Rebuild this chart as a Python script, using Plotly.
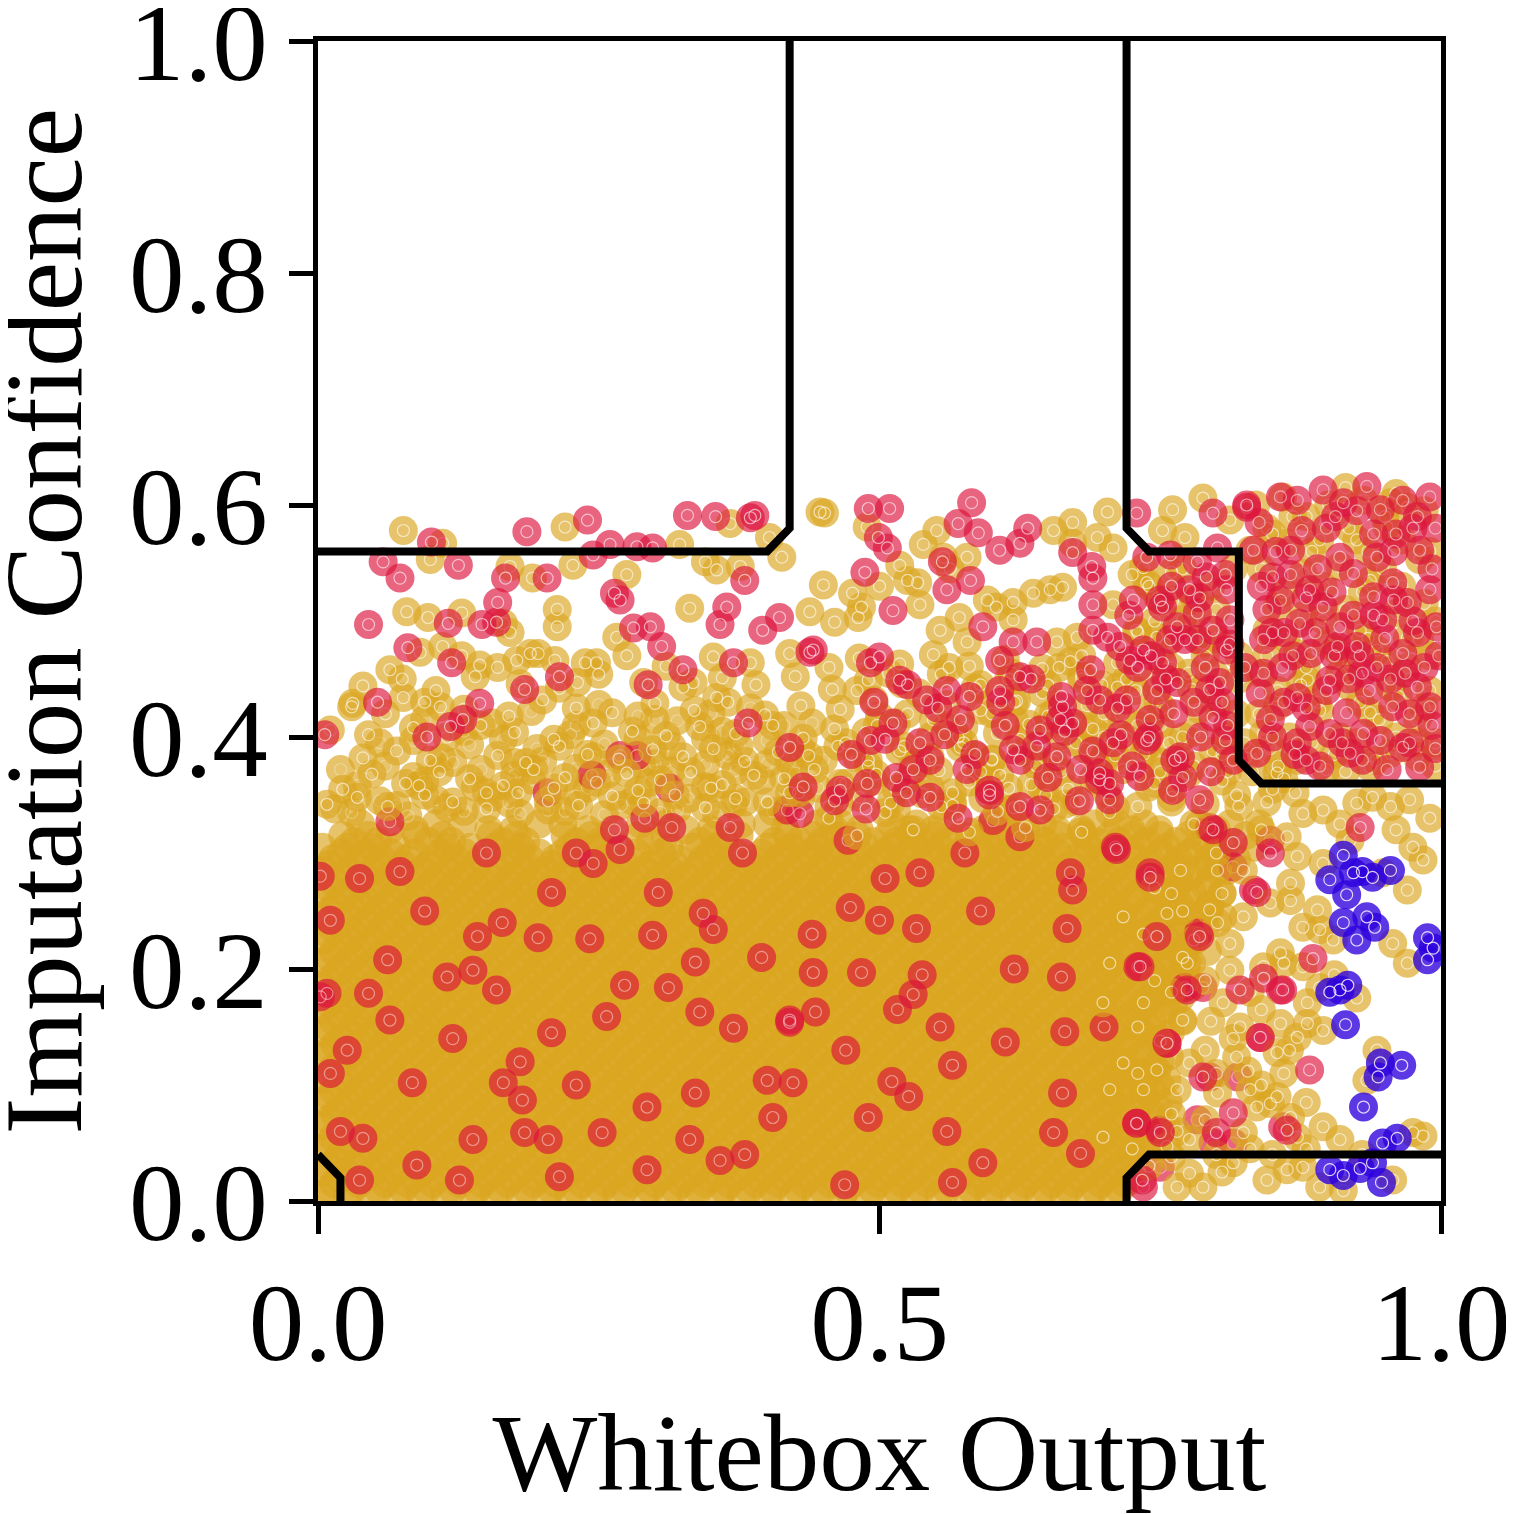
import plotly.graph_objects as go
import numpy as np

# every coordinate below is in thousandths of an axis unit

# dense orange body, written row by row: row height and the x positions in that row
core_row_y = [5, 15, 25, 35, 45, 55, 65, 75, 85, 95, 105, 115, 125, 135, 145, 155, 165,
              175, 185, 195, 205, 215, 225, 235, 245, 255, 265, 275, 285, 295, 305, 315, 325]
core_row_x = [
    [3, 26, 47, 71, 91, 113, 138, 157, 180, 204, 223, 246, 266, 291, 311, 333, 358, 377, 400, 423, 443, 467, 487, 511, 531, 553, 578, 597, 620, 642, 664, 687, 707],
    [14, 36, 60, 80, 102, 126, 146, 169, 192, 212, 235, 257, 279, 300, 324, 345, 366, 390, 410, 433, 456, 476, 499, 521, 543, 564, 588, 608, 630, 654, 674, 697, 719],
    [4, 25, 49, 69, 92, 115, 135, 158, 180, 202, 225, 245, 268, 290, 312, 335, 355, 378, 400, 422, 445, 465, 488, 510, 532, 555, 575, 598, 620, 642, 664, 685, 709],
    [16, 37, 58, 82, 103, 124, 148, 168, 191, 214, 234, 257, 280, 300, 323, 346, 366, 389, 412, 432, 455, 478, 498, 521, 544, 564, 587, 610, 630, 653, 676, 696, 719],
    [3, 24, 48, 70, 90, 114, 136, 157, 181, 202, 223, 247, 267, 290, 313, 333, 356, 379, 399, 422, 445, 465, 488, 511, 531, 554, 577, 597, 620, 643, 663, 686, 709, 732],
    [13, 37, 58, 80, 101, 125, 146, 168, 191, 213, 235, 257, 279, 301, 323, 345, 367, 388, 412, 433, 454, 478, 499, 520, 544, 565, 586, 610, 631, 652, 676, 697, 720, 744],
    [4, 26, 47, 70, 92, 113, 136, 158, 179, 202, 224, 245, 268, 290, 311, 334, 356, 377, 400, 422, 443, 466, 488, 509, 532, 554, 575, 598, 620, 641, 664, 686, 707, 731, 755],
    [15, 38, 58, 80, 104, 124, 146, 170, 190, 212, 236, 256, 278, 302, 322, 344, 368, 388, 410, 434, 454, 476, 500, 520, 542, 566, 586, 608, 632, 652, 674, 698, 718, 742],
    [5, 27, 48, 71, 93, 114, 137, 159, 180, 203, 225, 246, 269, 291, 312, 335, 357, 378, 401, 423, 444, 467, 489, 510, 533, 555, 576, 599, 621, 642, 665, 687, 708, 733, 757],
    [14, 36, 60, 80, 102, 126, 146, 168, 192, 212, 234, 258, 278, 300, 324, 344, 366, 390, 410, 432, 456, 476, 498, 522, 542, 564, 588, 608, 630, 654, 674, 696, 720, 743],
    [3, 25, 48, 70, 91, 114, 136, 157, 180, 202, 223, 246, 268, 289, 312, 334, 355, 378, 400, 421, 444, 466, 487, 510, 532, 553, 576, 598, 619, 642, 664, 685, 708, 731, 756],
    [14, 37, 59, 80, 103, 125, 146, 169, 191, 212, 235, 257, 278, 301, 323, 344, 367, 389, 410, 433, 455, 476, 499, 521, 542, 565, 587, 608, 631, 653, 674, 697, 719, 744],
    [4, 27, 48, 70, 93, 114, 136, 159, 180, 202, 225, 246, 268, 291, 312, 334, 357, 378, 400, 423, 444, 466, 489, 510, 532, 555, 576, 598, 621, 642, 664, 687, 708, 732, 758],
    [15, 36, 59, 82, 103, 125, 148, 169, 191, 214, 235, 257, 280, 301, 323, 346, 367, 389, 412, 433, 455, 478, 499, 521, 544, 565, 587, 610, 631, 653, 676, 697, 719, 745],
    [5, 28, 49, 71, 94, 115, 137, 160, 181, 203, 226, 247, 269, 292, 313, 335, 358, 379, 401, 424, 445, 467, 490, 511, 533, 556, 577, 599, 622, 643, 665, 688, 709, 733, 759],
    [14, 35, 58, 81, 102, 124, 147, 168, 190, 213, 234, 256, 279, 300, 322, 345, 366, 388, 411, 432, 454, 477, 498, 520, 543, 564, 586, 609, 630, 652, 675, 696, 718, 743, 770],
    [3, 26, 47, 69, 92, 113, 135, 158, 179, 201, 224, 245, 267, 290, 311, 333, 356, 377, 399, 422, 443, 465, 488, 509, 531, 554, 575, 597, 620, 641, 663, 686, 707, 730, 756],
    [13, 35, 58, 79, 101, 124, 145, 167, 190, 211, 233, 256, 277, 299, 322, 343, 365, 388, 409, 431, 454, 475, 497, 520, 541, 563, 586, 607, 629, 652, 673, 695, 717, 742, 768],
    [4, 27, 48, 70, 93, 114, 136, 159, 180, 202, 225, 246, 268, 291, 312, 334, 357, 378, 400, 423, 444, 466, 489, 510, 532, 555, 576, 598, 621, 642, 664, 687, 708, 731, 755, 779],
    [15, 37, 60, 81, 103, 126, 147, 169, 192, 213, 235, 258, 279, 301, 324, 345, 367, 390, 411, 433, 456, 477, 499, 522, 543, 565, 588, 609, 631, 654, 675, 697, 719, 744, 768],
    [3, 25, 48, 69, 91, 114, 135, 157, 180, 201, 223, 246, 267, 289, 312, 333, 355, 378, 399, 421, 444, 465, 487, 510, 531, 553, 576, 597, 619, 642, 663, 685, 707, 730, 754, 778],
    [14, 36, 59, 80, 102, 125, 146, 168, 191, 212, 234, 257, 278, 300, 323, 344, 366, 389, 410, 432, 455, 476, 498, 521, 542, 564, 587, 608, 630, 653, 674, 696, 718, 742, 767, 792],
    [5, 28, 49, 71, 94, 115, 137, 160, 181, 203, 226, 247, 269, 292, 313, 335, 358, 379, 401, 424, 445, 467, 490, 511, 533, 556, 577, 599, 622, 643, 665, 688, 709, 732, 756, 781],
    [13, 35, 58, 79, 101, 124, 145, 167, 190, 211, 233, 256, 277, 299, 322, 343, 365, 388, 409, 431, 454, 475, 497, 520, 541, 563, 586, 607, 629, 652, 673, 695, 717, 741, 766, 790],
    [4, 27, 48, 70, 93, 114, 136, 159, 180, 202, 225, 246, 268, 291, 312, 334, 357, 378, 400, 423, 444, 466, 489, 510, 532, 555, 576, 598, 621, 642, 664, 687, 708, 731, 755, 780, 806],
    [15, 38, 59, 81, 104, 125, 147, 170, 191, 213, 236, 257, 279, 302, 323, 345, 368, 389, 411, 434, 455, 477, 500, 521, 543, 566, 587, 609, 632, 653, 675, 698, 719, 743, 768, 794],
    [3, 25, 48, 69, 91, 114, 135, 157, 180, 201, 223, 246, 267, 289, 312, 333, 355, 378, 399, 421, 444, 465, 487, 510, 531, 553, 576, 597, 619, 642, 663, 685, 707, 730, 754, 779, 805],
    [14, 37, 58, 80, 103, 124, 146, 169, 190, 212, 235, 256, 278, 301, 322, 344, 367, 388, 410, 433, 454, 476, 499, 520, 542, 565, 586, 608, 631, 652, 674, 697, 718, 742, 767, 793],
    [5, 27, 50, 71, 93, 116, 137, 159, 182, 203, 225, 248, 269, 291, 314, 335, 357, 380, 401, 423, 446, 467, 489, 512, 533, 555, 578, 599, 621, 644, 665, 687, 709, 732, 757, 783, 810],
    [13, 36, 57, 79, 102, 123, 145, 168, 189, 211, 234, 255, 277, 300, 321, 343, 366, 387, 409, 432, 453, 475, 498, 519, 541, 564, 585, 607, 630, 651, 673, 696, 717, 741, 766, 792, 818],
    [4, 26, 49, 70, 115, 136, 158, 181, 224, 247, 268, 313, 334, 356, 400, 422, 445, 466, 488, 511, 532, 554, 577, 598, 620, 643, 664, 686, 708, 731, 756, 782, 808, 834],
    [22, 45, 88, 111, 154, 177, 220, 243, 286, 309, 352, 375, 418, 441, 462, 507, 528, 550, 573, 594, 616, 639, 660, 682, 705, 726, 750, 775, 800, 826],
    [38, 105, 129, 197, 218, 287, 310, 377, 400, 445, 466, 511, 533, 556, 600, 622, 645, 690, 712, 736, 785, 812, 838],
]

# second pass over the same body, rows in between the first ones
core2_row_y = [10, 20, 30, 40, 50, 60, 70, 80, 90, 100, 110, 120, 130, 140, 150, 160,
               170, 180, 190, 200, 210, 220, 230, 240, 250, 260, 270, 280, 290, 300, 310, 320]
core2_row_x = [
    [9, 31, 54, 76, 97, 120, 142, 163, 186, 208, 230, 252, 273, 296, 318, 339, 362, 384, 405, 428, 450, 471, 494, 516, 537, 560, 582, 603, 626, 648, 669, 692, 714],
    [20, 42, 63, 86, 108, 130, 152, 173, 196, 218, 240, 261, 284, 306, 327, 350, 372, 394, 416, 437, 460, 482, 503, 526, 548, 570, 591, 614, 636, 657, 680, 702, 724],
    [9, 32, 53, 75, 98, 119, 141, 164, 186, 207, 230, 251, 273, 296, 318, 339, 362, 383, 405, 428, 450, 471, 494, 515, 537, 560, 582, 603, 626, 647, 669, 692, 714],
    [20, 41, 64, 86, 107, 130, 152, 174, 196, 218, 239, 262, 284, 305, 328, 350, 372, 394, 416, 437, 460, 482, 504, 526, 548, 569, 592, 614, 635, 658, 680, 702, 724],
    [10, 31, 53, 76, 97, 119, 142, 164, 185, 208, 230, 251, 274, 296, 317, 340, 362, 383, 406, 428, 449, 472, 494, 515, 538, 560, 581, 604, 626, 647, 670, 692, 713, 738],
    [21, 42, 64, 87, 108, 130, 153, 174, 196, 219, 240, 262, 285, 306, 328, 351, 372, 394, 417, 438, 460, 483, 504, 526, 549, 570, 592, 615, 636, 658, 681, 702, 725, 749],
    [9, 31, 54, 75, 97, 120, 141, 163, 186, 207, 229, 252, 273, 295, 318, 339, 361, 384, 405, 427, 450, 471, 493, 516, 537, 559, 582, 603, 625, 648, 669, 691, 714, 737],
    [20, 43, 64, 86, 109, 130, 152, 175, 196, 218, 241, 262, 284, 307, 328, 350, 373, 394, 416, 439, 460, 482, 505, 526, 548, 571, 592, 614, 637, 658, 680, 703, 724, 748],
    [10, 32, 53, 76, 98, 119, 142, 164, 185, 208, 230, 251, 274, 296, 317, 340, 362, 383, 406, 428, 449, 472, 494, 515, 538, 560, 581, 604, 626, 647, 670, 692, 713, 737],
    [21, 42, 65, 86, 108, 131, 152, 174, 197, 218, 240, 263, 284, 306, 329, 350, 372, 395, 416, 438, 461, 482, 504, 527, 548, 570, 593, 614, 636, 659, 680, 702, 725, 750],
    [9, 31, 53, 76, 97, 119, 142, 163, 185, 208, 229, 251, 274, 295, 317, 340, 361, 383, 406, 427, 449, 472, 493, 515, 538, 559, 581, 604, 625, 647, 670, 691, 713, 738],
    [20, 42, 64, 86, 108, 130, 152, 174, 196, 218, 240, 262, 284, 306, 328, 350, 372, 394, 416, 438, 460, 482, 504, 526, 548, 570, 592, 614, 636, 658, 680, 702, 724, 750],
    [10, 33, 54, 76, 99, 120, 142, 165, 186, 208, 231, 252, 274, 297, 318, 340, 363, 384, 406, 429, 450, 472, 495, 516, 538, 561, 582, 604, 627, 648, 670, 693, 714, 739],
    [21, 42, 64, 87, 108, 130, 153, 174, 196, 219, 240, 262, 285, 306, 328, 351, 372, 394, 417, 438, 460, 483, 504, 526, 549, 570, 592, 615, 636, 658, 681, 702, 725, 751],
    [9, 32, 53, 75, 98, 119, 141, 164, 185, 207, 230, 251, 273, 296, 317, 339, 362, 383, 405, 428, 449, 471, 494, 515, 537, 560, 581, 603, 626, 647, 669, 692, 713, 738],
    [20, 41, 64, 86, 107, 130, 152, 173, 196, 218, 239, 262, 284, 305, 328, 350, 371, 394, 416, 437, 460, 482, 503, 526, 548, 569, 592, 614, 635, 658, 680, 701, 724, 750],
    [10, 31, 53, 76, 97, 119, 142, 163, 185, 208, 229, 251, 274, 295, 317, 340, 361, 383, 406, 427, 449, 472, 493, 515, 538, 559, 581, 604, 625, 647, 670, 691, 713, 737, 762],
    [21, 43, 64, 86, 109, 130, 152, 175, 196, 218, 241, 262, 284, 307, 328, 350, 373, 394, 416, 439, 460, 482, 505, 526, 548, 571, 592, 614, 637, 658, 680, 703, 724, 749],
    [9, 31, 54, 75, 97, 120, 141, 163, 186, 207, 229, 252, 273, 295, 318, 339, 361, 384, 405, 427, 450, 471, 493, 516, 537, 559, 582, 603, 625, 648, 669, 691, 714, 737, 762],
    [20, 42, 63, 86, 108, 129, 152, 174, 195, 218, 240, 261, 284, 306, 327, 350, 372, 393, 416, 438, 459, 482, 504, 525, 548, 570, 591, 614, 636, 657, 680, 702, 724, 748, 773],
    [10, 32, 54, 76, 98, 120, 142, 164, 186, 208, 230, 252, 274, 296, 318, 340, 362, 384, 406, 428, 450, 472, 494, 516, 538, 560, 582, 604, 626, 648, 670, 692, 714, 737, 761],
    [21, 42, 65, 86, 108, 131, 152, 174, 197, 218, 240, 263, 284, 306, 329, 350, 372, 395, 416, 438, 461, 482, 504, 527, 548, 570, 593, 614, 636, 659, 680, 702, 725, 749, 774],
    [9, 31, 53, 76, 97, 119, 142, 163, 185, 208, 229, 251, 274, 295, 317, 340, 361, 383, 406, 427, 449, 472, 493, 515, 538, 559, 581, 604, 625, 647, 670, 691, 713, 737, 762],
    [20, 43, 64, 86, 109, 130, 152, 175, 196, 218, 241, 262, 284, 307, 328, 350, 373, 394, 416, 439, 460, 482, 505, 526, 548, 571, 592, 614, 637, 658, 680, 703, 724, 748, 772],
    [10, 31, 53, 76, 97, 119, 142, 163, 185, 208, 229, 251, 274, 295, 317, 340, 361, 383, 406, 427, 449, 472, 493, 515, 538, 559, 581, 604, 625, 647, 670, 691, 713, 738, 763, 790],
    [21, 42, 64, 87, 108, 130, 153, 174, 196, 219, 240, 262, 285, 306, 328, 351, 372, 394, 417, 438, 460, 483, 504, 526, 549, 570, 592, 615, 636, 658, 681, 702, 725, 750, 775],
    [9, 32, 53, 75, 98, 119, 141, 164, 185, 207, 230, 251, 273, 296, 317, 339, 362, 383, 405, 428, 449, 471, 494, 515, 537, 560, 581, 603, 626, 647, 669, 692, 713, 738, 764, 791],
    [20, 41, 64, 86, 107, 130, 152, 173, 196, 218, 239, 262, 284, 305, 328, 350, 371, 394, 416, 437, 460, 482, 503, 526, 548, 569, 592, 614, 635, 658, 680, 701, 724, 749, 775],
    [10, 32, 53, 76, 98, 119, 142, 164, 185, 208, 230, 251, 274, 296, 317, 340, 362, 383, 406, 428, 449, 472, 494, 515, 538, 560, 581, 604, 626, 647, 670, 692, 713, 738, 764, 792],
    [21, 42, 65, 86, 108, 131, 174, 197, 218, 263, 284, 306, 350, 372, 395, 416, 438, 461, 482, 504, 527, 548, 570, 593, 614, 636, 659, 680, 702, 725, 750, 776, 802],
    [32, 53, 98, 119, 164, 185, 230, 251, 296, 340, 362, 406, 428, 449, 494, 515, 538, 560, 604, 626, 647, 692, 713, 738, 764, 790],
    [64, 86, 152, 174, 240, 262, 328, 350, 416, 460, 482, 526, 548, 592, 614, 658, 680, 724, 749, 800],
]

orange_mid = [
    (8, 342), (35, 348), (62, 340), (95, 350), (120, 344), (150, 338), (178, 352), (205, 345), (232, 341), (262, 349),
    (290, 343), (318, 350), (345, 339), (372, 347), (400, 344), (428, 352), (455, 340), (482, 348), (510, 343), (538, 351),
    (565, 341), (592, 347), (620, 339), (648, 350), (675, 344), (702, 352), (730, 340), (760, 348), (790, 342), (818, 350),
    (845, 344), (870, 352), (48, 368), (78, 360), (108, 370), (135, 364), (165, 358), (192, 372), (220, 365), (248, 361),
    (275, 369), (305, 363), (332, 370), (360, 359), (388, 367), (415, 364), (442, 372), (470, 360), (497, 368), (525, 363),
    (553, 371), (580, 361), (607, 367), (635, 359), (662, 370), (690, 364), (717, 372), (745, 360), (775, 368), (805, 362),
    (832, 370), (860, 364), (40, 382), (70, 388), (100, 380), (160, 384), (185, 378), (215, 392), (240, 385), (268, 381),
    (298, 389), (325, 383), (352, 390), (380, 379), (410, 387), (437, 384), (463, 392), (490, 380), (518, 388), (545, 383),
    (572, 391), (600, 381), (628, 387), (655, 379), (683, 390), (710, 384), (738, 392), (768, 380), (797, 388), (826, 382),
    (45, 402), (85, 408), (115, 400), (145, 410), (175, 404), (210, 398), (245, 412), (280, 405), (310, 401), (340, 409),
    (372, 403), (405, 410), (432, 399), (460, 407), (488, 404), (515, 412), (545, 400), (575, 408), (605, 403), (633, 411),
    (660, 401), (690, 407), (720, 399), (750, 410), (780, 404), (808, 400), (30, 426), (60, 420), (95, 430), (130, 424),
    (170, 418), (200, 432), (230, 425), (262, 421), (300, 429), (335, 423), (365, 430), (398, 419), (430, 427), (465, 424),
    (495, 432), (525, 420), (560, 428), (590, 423), (622, 431), (655, 421), (685, 427), (715, 419), (748, 430), (785, 424),
    (40, 444), (75, 450), (105, 440), (140, 452), (180, 446), (215, 442), (250, 454), (290, 447), (325, 443), (360, 451),
    (390, 445), (425, 452), (458, 441), (490, 449), (520, 446), (555, 454), (585, 442), (615, 450), (650, 445), (680, 453),
    (712, 443), (745, 449), (778, 441), (128, 470), (196, 472), (238, 464), (275, 470), (310, 461), (352, 469), (385, 464),
    (420, 472), (455, 460), (482, 468), (518, 463), (548, 471), (580, 461), (612, 467), (645, 459), (680, 470), (712, 464),
    (31, 429), (231, 447), (334, 447), (355, 434), (109, 426), (76, 434), (11, 406),
    (22, 355), (90, 358), (150, 352), (210, 356), (285, 354), (350, 356), (420, 352),
]

orange_band_left = [
    (30, 335), (55, 345), (80, 332), (105, 346), (130, 336), (155, 348), (180, 334), (205, 337), (230, 349), (255, 333),
    (280, 345), (305, 335), (330, 347), (355, 333), (380, 344), (405, 336), (430, 348), (20, 372), (60, 375), (85, 366),
    (120, 378), (145, 372), (175, 367), (200, 379), (230, 373), (258, 368), (288, 377), (315, 371), (345, 376), (372, 371),
    (400, 377), (425, 369), (450, 380), (55, 395), (85, 397), (135, 393), (165, 398), (195, 390), (225, 402), (255, 394),
    (285, 398), (315, 392), (345, 399), (375, 392), (400, 397), (430, 390), (95, 415), (155, 412), (190, 422), (250, 428),
    (285, 418), (320, 414), (350, 420), (385, 425), (415, 410),
    (15, 338), (70, 341), (115, 339), (170, 343), (220, 336), (270, 341), (320, 338), (370, 342), (415, 337), (465, 343),
    (515, 338), (565, 344), (615, 337), (665, 342), (710, 339), (760, 344), (35, 358), (95, 362), (140, 357), (190, 363),
    (240, 356), (295, 361), (345, 357), (395, 363), (445, 356), (495, 362), (545, 357), (595, 363), (645, 356), (695, 361),
    (740, 357), (110, 382), (175, 378), (245, 383), (300, 377), (365, 384), (420, 379), (480, 382), (530, 378), (585, 384),
    (640, 380), (700, 383), (750, 378), (130, 405), (230, 410), (300, 415), (360, 405), (440, 412), (500, 418), (560, 408),
    (620, 415), (680, 410), (740, 418),
]

orange_top = [
    (76, 578), (111, 567), (220, 581), (367, 584), (402, 572), (322, 566), (447, 594), (100, 553), (171, 547), (191, 537),
    (227, 548), (275, 540), (345, 551), (355, 544), (376, 547), (413, 555), (79, 508), (98, 503), (128, 507), (165, 498),
    (171, 490), (213, 510), (213, 495), (266, 486), (331, 511), (438, 508), (91, 473), (111, 478), (64, 458), (144, 462),
    (160, 460), (177, 466), (189, 472), (211, 466), (248, 464), (451, 593), (551, 578), (489, 581), (539, 566), (557, 555),
    (578, 555), (655, 578), (672, 585), (703, 594), (761, 596), (788, 606), (694, 572), (672, 567), (708, 563), (735, 546),
    (760, 542), (752, 578), (772, 572), (450, 531), (476, 524), (500, 530), (518, 548), (525, 535), (534, 533), (563, 545),
    (596, 518), (619, 516), (637, 524), (652, 527), (663, 529), (708, 514), (738, 533), (761, 518), (770, 501), (788, 481),
    (460, 499), (481, 503), (484, 512), (536, 514), (554, 492), (571, 503), (578, 482), (604, 512), (619, 501), (658, 482),
    (676, 486), (729, 492), (747, 486),
]

orange_right = [
    (975, 305), (984, 294), (970, 268), (957, 222), (970, 205), (866, 259), (892, 234), (904, 225), (857, 214), (877, 202),
    (892, 184), (881, 153), (895, 147), (943, 130), (934, 104), (895, 64), (910, 53), (975, 59), (984, 56), (892, 12),
    (913, 9), (877, 29), (815, 33), (776, 24), (765, 12), (788, 12), (848, 84), (866, 72), (836, 81), (812, 222),
    (801, 240), (774, 205), (812, 199), (842, 202), (717, 245), (705, 205), (699, 171), (735, 171), (770, 156), (806, 171),
    (821, 150), (857, 153), (881, 171), (872, 141), (854, 128), (818, 124), (776, 119), (747, 113), (717, 119), (705, 96),
    (735, 96), (765, 96), (801, 93), (830, 96), (854, 90), (872, 55), (824, 59), (776, 53), (756, 47), (699, 55),
    (863, 27), (948, 283), (919, 311), (877, 334), (895, 337), (955, 340), (939, 348), (972, 346), (925, 343), (863, 314),
    (872, 297), (895, 291), (824, 285), (801, 285), (768, 285), (866, 274), (848, 257), (824, 245), (794, 251), (756, 248),
    (890, 251), (877, 236), (740, 30), (760, 38), (800, 40), (845, 18), (930, 40), (957, 18), (790, 70), (830, 45),
    (750, 138), (790, 130), (828, 112), (860, 110), (760, 180), (790, 190), (830, 180), (780, 225), (760, 265), (800, 300),
    (840, 320), (820, 340), (850, 355), (780, 325), (910, 325), (960, 320), (990, 330), (905, 195), (925, 175), (880, 85),
    (730, 150), (745, 190), (770, 210), (795, 155), (815, 140), (840, 165), (860, 205), (735, 230), (770, 250), (805, 265),
    (745, 270), (730, 110), (760, 75), (800, 110), (840, 100), (865, 130), (725, 45), (765, 60), (805, 25), (850, 40),
    (880, 45),
]

orange_corner = [
    (812, 587), (859, 607), (955, 602), (970, 598), (931, 604), (925, 570), (952, 581), (981, 553), (892, 570), (863, 567),
    (830, 561), (910, 547), (877, 541), (854, 512), (937, 535), (961, 507), (981, 484), (928, 492), (895, 501), (845, 492),
    (872, 472), (907, 475), (943, 475), (970, 460), (839, 455), (881, 449), (919, 443), (955, 443), (854, 426), (892, 423),
    (937, 421), (979, 415), (842, 403), (910, 400), (955, 386), (872, 380), (937, 374), (979, 383), (854, 369), (898, 372),
    (740, 530), (780, 520), (760, 460), (800, 430), (730, 410), (770, 400), (810, 370), (750, 370), (790, 470), (820, 450),
    (720, 450), (745, 500), (800, 510), (700, 400), (680, 450), (650, 410), (660, 460), (620, 430), (600, 380), (570, 400),
    (990, 560), (995, 500), (990, 440), (995, 395), (960, 610), (880, 590), (845, 580), (915, 615),
    (835, 600), (850, 575), (868, 590), (885, 560), (900, 600), (918, 580), (935, 560), (950, 590), (965, 570), (985, 595),
    (840, 545), (860, 525), (878, 505), (895, 530), (915, 510), (930, 525), (948, 545), (965, 530), (985, 515), (845, 470),
    (862, 485), (880, 460), (898, 480), (918, 465), (935, 485), (952, 465), (970, 485), (990, 470), (838, 420), (855, 440),
    (875, 445), (890, 430), (910, 455), (928, 430), (945, 415), (962, 435), (985, 425), (848, 390), (865, 400), (885, 395),
    (905, 385), (925, 395), (942, 380), (960, 400), (980, 395), (995, 375), (855, 375), (915, 370),
    (725, 540), (748, 520), (770, 545), (795, 530), (815, 545), (730, 490), (755, 480), (778, 500), (800, 485), (820, 470),
    (728, 440), (752, 425), (775, 455), (798, 455), (818, 420), (735, 385), (758, 395), (780, 375), (805, 385), (825, 395),
]

orange_band = [
    (455, 330), (480, 315), (505, 335), (530, 320), (555, 340), (580, 318), (605, 336), (630, 322), (655, 338), (680, 318),
    (705, 335), (465, 360), (490, 375), (515, 355), (540, 378), (565, 352), (590, 370), (615, 356), (640, 375), (668, 355),
    (695, 378), (470, 395), (498, 410), (522, 392), (548, 415), (575, 395), (600, 420), (625, 398), (650, 418), (675, 395),
    (700, 420), (480, 440), (508, 455), (535, 438), (562, 460), (590, 445), (618, 455), (645, 438), (670, 465), (698, 445),
]

red_core = [
    (244, 367), (269, 384), (284, 384), (204, 352), (313, 356), (264, 320), (291, 330), (315, 322), (245, 291), (269, 303),
    (64, 327), (37, 278), (11, 242), (73, 284), (208, 266), (303, 266), (343, 248), (352, 234), (378, 300), (367, 322),
    (418, 337), (164, 240), (142, 228), (196, 227), (242, 226), (336, 206), (298, 229), (62, 208), (8, 179), (45, 179),
    (115, 193), (138, 199), (159, 182), (273, 186), (312, 184), (370, 149), (420, 154), (340, 163), (257, 159), (208, 145),
    (64, 156), (26, 130), (84, 102), (165, 102), (182, 87), (293, 81), (336, 93), (405, 72), (253, 59), (205, 53),
    (184, 59), (138, 53), (40, 54), (88, 31), (37, 18), (331, 53), (358, 35), (293, 27), (215, 21), (126, 18),
    (400, 104), (11, 110), (2, 176), (2, 280), (472, 311), (429, 334), (536, 283), (505, 278), (601, 328), (576, 300),
    (625, 314), (710, 305), (741, 283), (794, 322), (815, 288), (848, 311), (833, 268), (784, 231), (670, 283), (667, 235),
    (672, 268), (474, 253), (500, 242), (533, 235), (441, 197), (484, 197), (538, 195), (530, 178), (420, 156), (443, 163),
    (516, 165), (554, 150), (612, 137), (565, 117), (526, 90), (511, 103), (490, 72), (662, 193), (665, 146), (730, 202),
    (756, 136), (772, 184), (794, 107), (839, 141), (857, 182), (819, 107), (729, 67), (750, 61), (679, 41), (655, 59),
    (663, 93), (592, 33), (565, 16), (469, 14), (750, 29), (783, 70), (797, 50), (815, 50), (859, 64), (788, 184),
    (423, 102), (735, 12), (95, 250), (150, 300), (180, 120), (230, 100), (380, 40), (440, 230), (590, 250), (620, 200),
    (700, 150), (560, 60), (470, 130), (120, 140), (20, 60), (395, 210), (230, 300),
]

red_mid = [
    (752, 464), (747, 440), (765, 447), (720, 432), (685, 440), (663, 426), (672, 412), (708, 395), (738, 397), (768, 383),
    (797, 417), (803, 447), (761, 354), (732, 366), (696, 369), (658, 383), (625, 452), (607, 440), (643, 406), (619, 389),
    (578, 372), (536, 395), (512, 412), (489, 360), (524, 352), (432, 357), (420, 391), (500, 469), (492, 464), (441, 475),
    (542, 432), (560, 440), (750, 518), (772, 484), (794, 441), (741, 415), (763, 380), (808, 397), (696, 432), (723, 466),
    (661, 415), (785, 346), (679, 372), (625, 380), (572, 415), (598, 354), (643, 337), (705, 346), (545, 380), (518, 449),
    (607, 466), (492, 397), (465, 354), (812, 501), (696, 363), (711, 303), (741, 279), (797, 320), (815, 309), (848, 300),
    (836, 266), (928, 322), (747, 228), (785, 228), (732, 202), (886, 209), (859, 182), (842, 192), (821, 182), (774, 182),
    (756, 136), (839, 141), (788, 107), (883, 113), (815, 76), (863, 61), (729, 67), (750, 59), (800, 59), (734, 18),
    (460, 345), (488, 338), (515, 365), (545, 348), (570, 330), (598, 350), (625, 340), (650, 365), (678, 345), (705, 360),
    (475, 385), (505, 398), (530, 372), (558, 402), (585, 385), (612, 410), (640, 392), (665, 405), (690, 388), (715, 402),
    (495, 430), (525, 445), (552, 425), (580, 435), (608, 430), (635, 450), (662, 435), (688, 458), (712, 425),
    (738, 555), (760, 530), (785, 520), (808, 540), (722, 505), (742, 470), (765, 495), (790, 460), (812, 480), (730, 460),
    (755, 450), (780, 430), (805, 430), (825, 460), (740, 400), (762, 420), (786, 400), (810, 410), (725, 375), (770, 365),
    (795, 370), (815, 380),
]

red_top = [
    (101, 568), (186, 577), (240, 587), (329, 591), (354, 590), (389, 591), (385, 589), (260, 566), (284, 564), (298, 563),
    (245, 557), (58, 551), (73, 537), (125, 548), (204, 537), (167, 537), (264, 524), (269, 518), (380, 535), (160, 516),
    (159, 499), (45, 497), (116, 498), (146, 497), (281, 494), (296, 495), (306, 478), (364, 512), (358, 497), (396, 492),
    (411, 503), (438, 473), (80, 477), (119, 464), (53, 430), (215, 452), (184, 441), (294, 445), (325, 458), (370, 464),
    (383, 412), (144, 429), (129, 415), (118, 409), (97, 400), (6, 402), (490, 597), (509, 597), (582, 602), (570, 584),
    (588, 576), (499, 572), (507, 563), (556, 551), (607, 561), (625, 567), (632, 580), (729, 593), (797, 593), (827, 600),
    (672, 559), (689, 547), (690, 537), (783, 551), (791, 538), (801, 563), (759, 557), (776, 527), (487, 542), (560, 527),
    (581, 535), (690, 514), (726, 518), (752, 512), (783, 507), (797, 492), (809, 527), (512, 509), (592, 495), (619, 482),
    (640, 482), (690, 492), (703, 486), (714, 478), (735, 475), (759, 484), (783, 484), (809, 475),
]

red_corner = [
    (827, 598), (857, 607), (895, 613), (934, 616), (966, 604), (990, 607), (872, 604), (913, 602), (946, 596), (979, 590),
    (833, 561), (866, 561), (910, 555), (943, 555), (981, 561), (850, 538), (883, 527), (922, 541), (957, 533), (990, 527),
    (857, 518), (895, 512), (940, 521), (970, 516), (874, 498), (910, 495), (948, 501), (979, 490), (842, 484), (884, 472),
    (925, 478), (966, 472), (859, 460), (901, 449), (943, 460), (979, 443), (990, 426), (839, 438), (872, 434), (916, 421),
    (957, 426), (848, 415), (883, 409), (931, 403), (966, 391), (836, 386), (872, 395), (901, 403), (946, 397), (981, 374),
    (919, 386), (898, 580), (960, 575), (860, 490), (930, 455), (880, 380), (998, 470), (995, 580), (840, 530), (905, 470),
    (838, 585), (853, 560), (876, 578), (890, 545), (906, 590), (925, 595), (940, 575), (958, 560), (975, 580), (992, 545),
    (845, 510), (866, 540), (880, 520), (903, 525), (922, 505), (940, 505), (958, 518), (975, 500), (996, 495), (850, 490),
    (868, 470), (888, 490), (908, 478), (928, 470), (950, 485), (968, 455), (985, 460), (842, 455), (860, 430), (880, 425),
    (898, 440), (918, 450), (936, 440), (955, 450), (972, 420), (992, 410), (850, 400), (870, 385), (892, 375), (912, 395),
    (930, 380), (952, 372), (972, 395), (995, 390),
]

blue_pts = [
    (913, 298), (901, 277), (922, 283), (939, 279), (955, 285), (930, 284), (916, 264), (913, 240), (925, 225), (941, 236),
    (934, 245), (988, 227), (993, 218), (988, 208), (901, 180), (917, 186), (910, 182), (915, 152), (946, 119), (965, 117),
    (944, 107), (931, 81), (948, 50), (961, 54), (901, 27), (913, 22), (928, 28), (947, 16), (939, 33),
]

# decision boundaries (axis units)
edge_left_x = [0.0, 0.40, 0.42, 0.42]
edge_left_y = [0.56, 0.56, 0.58, 1.0]
edge_right_x = [0.72, 0.72, 0.74, 0.82, 0.82, 0.84, 1.0]
edge_right_y = [1.0, 0.58, 0.56, 0.56, 0.38, 0.36, 0.36]
edge_corner_x = [0.0, 0.02, 0.02]
edge_corner_y = [0.04, 0.02, 0.0]
edge_floor_x = [0.72, 0.72, 0.74, 1.0]
edge_floor_y = [0.0, 0.02, 0.04, 0.04]

x_ticks = [0.0, 0.5, 1.0]
y_ticks = [0.0, 0.2, 0.4, 0.6, 0.8, 1.0]

ORANGE = "rgba(218,165,32,0.66)"
RED = "rgba(220,20,60,0.66)"
BLUE = "rgba(45,0,220,0.78)"
FONT = "Liberation Serif, Times New Roman, serif"


def pts(pairs):
    a = np.array(pairs, dtype=float) / 1000.0
    return a[:, 0], a[:, 1]


def rows(row_y, row_x):
    xs, ys = [], []
    for yv, xr in zip(row_y, row_x):
        xs += [v / 1000.0 for v in xr]
        ys += [yv / 1000.0] * len(xr)
    return xs, ys


core_x, core_y = rows(core_row_y, core_row_x)
core2_x, core2_y = rows(core2_row_y, core2_row_x)

fig = go.Figure()


def add_points(x, y, color, ring_alpha):
    fig.add_trace(go.Scatter(x=x, y=y, mode="markers", hoverinfo="skip",
                             marker=dict(size=29, color=color, line=dict(width=0))))
    if ring_alpha:
        fig.add_trace(go.Scatter(x=x, y=y, mode="markers", hoverinfo="skip",
                                 marker=dict(symbol="circle-open", size=12,
                                             color="rgba(255,255,255,%s)" % ring_alpha,
                                             line=dict(width=1.2))))


add_points(core_x + core2_x, core_y + core2_y, ORANGE, 0)
add_points(*pts(orange_band_left), ORANGE, 0.3)
add_points(*pts(red_core), RED, 0.45)
add_points(*pts(orange_mid + orange_band + orange_top + orange_right + orange_corner), ORANGE, 0.6)
add_points(*pts(red_corner), RED, 0.5)
add_points(*pts(red_mid + red_top), RED, 0.6)
add_points(*pts(blue_pts), BLUE, 0.8)

for ex, ey in [(edge_left_x, edge_left_y), (edge_right_x, edge_right_y),
               (edge_corner_x, edge_corner_y), (edge_floor_x, edge_floor_y)]:
    fig.add_trace(go.Scatter(x=ex, y=ey, mode="lines", hoverinfo="skip",
                             line=dict(color="black", width=8)))

axis_style = dict(range=[0, 1], showgrid=False, zeroline=False, showline=True,
                  linecolor="black", linewidth=5, mirror=True, ticks="outside",
                  tickwidth=5, tickcolor="black", automargin=False,
                  ticklabeloverflow="allow",
                  tickfont=dict(family=FONT, size=111, color="black"))

# the page puts the figure 8px in from the corner, so margins are trimmed by 8
fig.update_layout(
    width=1506, height=1506,
    margin=dict(l=310, r=73, t=33, b=313, autoexpand=False),
    paper_bgcolor="white", plot_bgcolor="white",
    showlegend=False,
    font=dict(family=FONT, size=111, color="black"),
    xaxis=dict(axis_style, tickvals=x_ticks, ticktext=["%.1f" % v for v in x_ticks],
               ticklen=28, ticklabelstandoff=-7,
               title=dict(text="Whitebox Output", standoff=50,
                          font=dict(family=FONT, size=111, color="black"))),
    yaxis=dict(axis_style, tickvals=y_ticks, ticktext=["%.1f" % v for v in y_ticks],
               ticklen=24, ticklabelstandoff=-1),
    annotations=[dict(text="Imputation Confidence", textangle=-90, showarrow=False,
                      xref="paper", yref="paper", x=-0.2445, y=0.5,
                      xanchor="center", yanchor="middle",
                      font=dict(family=FONT, size=111, color="black"))],
)

fig.write_html("out.html")
